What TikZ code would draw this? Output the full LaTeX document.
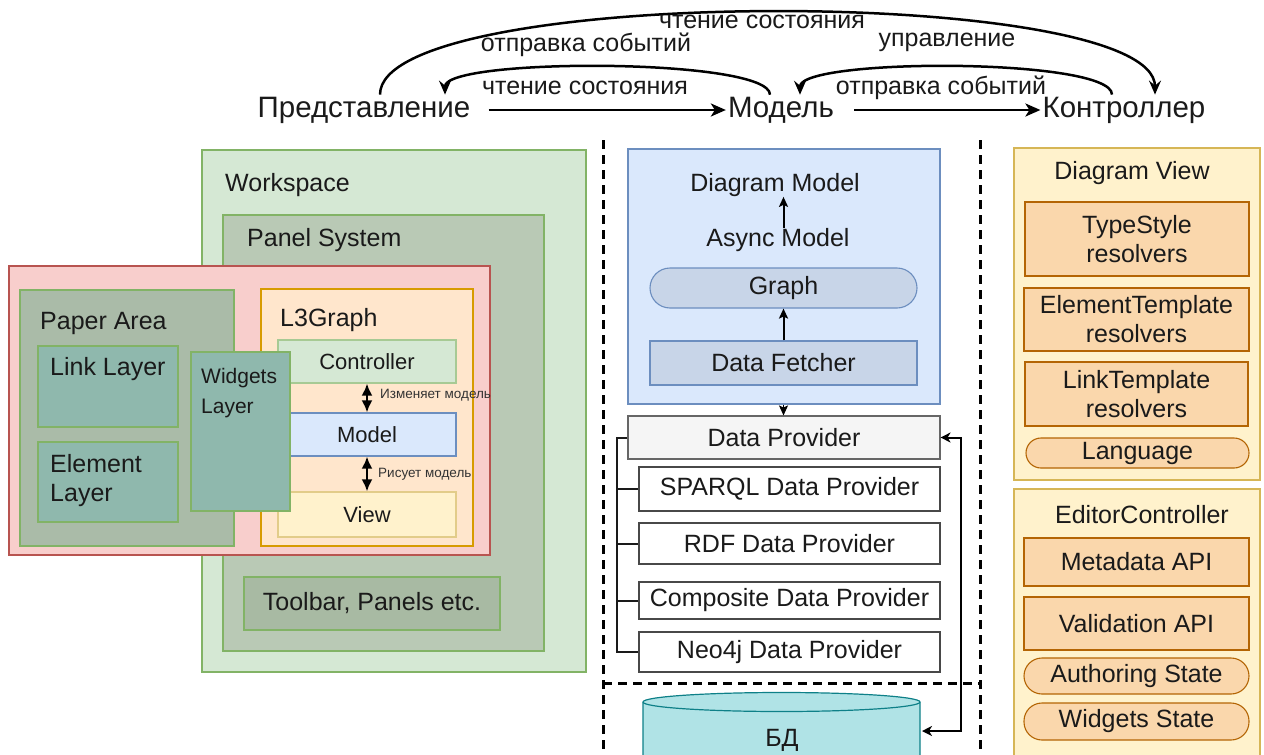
\documentclass[tikz,border=0pt]{standalone}
\usepackage{fontspec}
\setmainfont{Liberation Sans}
\usetikzlibrary{arrows.meta,calc}
\definecolor{txt}{HTML}{1A1A1A}
\definecolor{gF}{HTML}{D5E8D4}\definecolor{gD}{HTML}{82B366}
\definecolor{psF}{HTML}{B9C9B5}\definecolor{tbF}{HTML}{A8BAA3}
\definecolor{rF}{HTML}{F8CECC}\definecolor{rD}{HTML}{B85450}
\definecolor{paF}{HTML}{AABBA8}\definecolor{tlF}{HTML}{8FB8AD}
\definecolor{oF}{HTML}{FFE6CC}\definecolor{oD}{HTML}{D79B00}
\definecolor{bF}{HTML}{DAE8FC}\definecolor{bD}{HTML}{6C8EBF}
\definecolor{yF}{HTML}{FFF2CC}\definecolor{yD}{HTML}{D6B656}
\definecolor{gbF}{HTML}{C8D5E8}
\definecolor{dpF}{HTML}{F5F5F5}\definecolor{dpD}{HTML}{666666}
\definecolor{dbF}{HTML}{B0E3E6}\definecolor{dbD}{HTML}{0E8088}
\definecolor{peF}{HTML}{FAD7AC}\definecolor{peD}{HTML}{B46504}
\definecolor{lbl}{HTML}{333333}
\newcommand\fsz[2]{\fontsize{#1}{#2}\selectfont}
\newcommand\bx[7]{\node[#2, minimum width={#5-#3}, minimum height={#6-#4}] (#1) at ({(#3+#5)/2},{(#4+#6)/2}) {#7};}
\tikzset{
 every node/.style={inner sep=0pt, text=txt},
 box/.style={draw, line width=1.1pt, font=\fsz{25}{29}, align=center},
 lab/.style={anchor=west, font=\fsz{25}{29}, align=left},
 top/.style={font=\fsz{29.5}{32}, inner sep=2pt},
 toplab/.style={font=\fsz{25}{28}},
 bigarr/.style={line width=2.5pt, -{Stealth[length=15pt,width=13pt,inset=4pt]}},
 curarr/.style={line width=2.5pt, -{Stealth[length=14pt,width=12pt,inset=5pt]}},
 sarr/.style={line width=2pt, -{Stealth[length=10pt,width=9pt,inset=2pt]}},
 dbl/.style={line width=2.5pt, {Latex[length=12pt,width=11pt]}-{Latex[length=12pt,width=11pt]}},
 tree/.style={line width=2pt, draw=txt},
 dbarr/.style={line width=2pt, {Stealth[length=10pt,width=10pt,inset=3pt]}-{Stealth[length=10pt,width=10pt,inset=3pt]}},
 sep/.style={line width=3pt, dash pattern=on 9pt off 6pt},
 small/.style={anchor=west, font=\fsz{13.5}{15}, text=lbl},
}
\begin{document}
\begin{tikzpicture}[x=1pt,y=-1pt]
\useasboundingbox (0,0) rectangle (1264,755);
% ---------- top MVC row
\node[top] (pred) at (364,110) {Представление};
\node[top] (modl) at (781,110) {Модель};
\node[top] (kont) at (1124,110) {Контроллер};
\draw[bigarr] ($(pred.east)+(16,0)$) -- (modl.west);
\draw[bigarr] ($(modl.east)+(18,0)$) -- (kont.west);
\draw[curarr] ($(modl.north)+(-11,0)$) .. controls +(0,-37) and +(0,-37) .. ($(pred.north)+(81,0)$);
\draw[curarr] ($(kont.north)+(-12,0)$) .. controls +(0,-37) and +(0,-37) .. ($(modl.north)+(19,0)$);
\draw[curarr] ($(pred.north)+(16,0)$) .. controls +(0,-110) and +(0,-110) .. ($(kont.north)+(31,0)$);
\node[toplab] (l1) at (762,22) {чтение состояния};
\node[toplab] (l2) at (586,45) {отправка событий};
\node[toplab] (l3) at (947,42) {управление};
\node[toplab] (l4) at (585,88) {чтение состояния};
\node[toplab] (l5) at (941,88) {отправка событий};
% ---------- separators
\draw[sep] (603,140) -- (603,760);
\draw[sep] (980,140) -- (980,760);
\draw[sep] (603,683) -- (980,683);
% ---------- left part
\bx{ws}{box,fill=gF,draw=gD}{202}{150}{586}{672}{}
\node[lab] (wsl) at (225,185) {Workspace};
\bx{ps}{box,fill=psF,draw=gD}{223}{215}{544}{651}{}
\node[lab] (psl) at (247,240) {Panel System};
\bx{tb}{box,fill=tbF,draw=gD}{244}{577}{500}{630}{Toolbar, Panels etc.}
\bx{pink}{box,fill=rF,draw=rD}{9}{266}{490}{555}{}
\bx{pa}{box,fill=paF,draw=gD}{20}{290}{234}{546}{}
\node[lab] (pal) at (40,323) {Paper Area};
\bx{ll}{box,fill=tlF,draw=gD}{38}{346}{178}{427}{}
\node[lab] (lll) at (50,369) {Link Layer};
\bx{el}{box,fill=tlF,draw=gD}{38}{442}{178}{522}{}
\node[lab] (ell) at (50,481) {Element\\Layer};
\bx{l3}{box,fill=oF,draw=oD}{261}{289}{473}{546}{}
\node[lab] (l3l) at (280,320) {L3Graph};
\bx{ctrl}{box,fill=gF,draw=gD!70,font=\fsz{22}{26}}{278}{340}{456}{383}{Controller}
\bx{mdl}{box,fill=bF,draw=bD,font=\fsz{22}{26}}{278}{413}{456}{456}{Model}
\bx{view}{box,fill=yF,draw=yD!70,font=\fsz{22}{26}}{278}{492}{456}{537}{View}
\draw[dbl] (ctrl.south) -- (mdl.north);
\draw[dbl] (mdl.south) -- (view.north);
\node[small] (izm) at (380,395) {Изменяет модель};
\node[small] (ris) at (378,474) {Рисует модель};
\bx{wl}{box,fill=tlF,draw=gD}{191}{352}{290}{511}{}
\node[lab,font=\fsz{21}{30}] (wll) at (201,393) {Widgets\\Layer};
% ---------- middle
\bx{blue}{box,fill=bF,draw=bD}{628}{149}{940}{404}{}
\node[font=\fsz{25}{29}] (dm) at (775,185) {Diagram Model};
\node[font=\fsz{25}{29}] (async) at (778,240) {Async Model};
\bx{graph}{box,fill=gbF,draw=bD,rounded corners=20pt}{650}{268}{917}{308}{Graph}
\bx{df}{box,fill=gbF,draw=bD}{650}{341}{917}{385}{Data Fetcher}
\draw[sarr] (async.north -| graph) -- (dm.south -| graph);
\draw[sarr] (df.north) -- (graph.south);
\bx{dp}{box,fill=dpF,draw=dpD}{628}{416}{940}{459}{Data Provider}
\draw[sarr,line width=1.2pt] (blue.south -| graph) -- (dp.north -| graph);
\bx{sp}{box,fill=white,draw=txt!80}{639}{467}{940}{511}{SPARQL Data Provider}
\bx{rdf}{box,fill=white,draw=txt!80}{639}{523}{940}{564}{RDF Data Provider}
\bx{comp}{box,fill=white,draw=txt!80}{639}{582}{940}{619}{Composite Data Provider}
\bx{neo}{box,fill=white,draw=txt!80}{639}{632}{940}{672}{Neo4j Data Provider}
\coordinate (trunk) at ($(dp.west)+(-10,0)$);
\draw[tree] (dp.west) -- (trunk) |- (neo.west);
\draw[tree] (trunk) |- (sp.west);
\draw[tree] (trunk) |- (rdf.west);
\draw[tree] (trunk) |- (comp.west);
% database
\filldraw[fill=dbF,draw=dbD,line width=1.2pt] (643,702) -- (643,800) -- (920,800) -- (920,702)
  arc[start angle=0,end angle=180,x radius=138.5pt,y radius=9.5pt] -- cycle;
\draw[draw=dbD,line width=1.2pt] (643,702) arc[start angle=180,end angle=360,x radius=138.5pt,y radius=9.5pt];
\node[font=\fsz{25}{29}] (db) at (782,740) {БД};
\coordinate (dbr) at (922,731);
\draw[dbarr] (dp.east) -- ($(dp.east)+(20,0)$) |- (dbr);
% ---------- right
\bx{dv}{box,fill=yF,draw=yD}{1014}{148}{1260}{480}{}
\node[font=\fsz{25}{29}] (dvl) at (1132,173) {Diagram View};
\bx{ts}{box,fill=peF,draw=peD}{1025}{202}{1249}{276}{TypeStyle\\resolvers}
\bx{et}{box,fill=peF,draw=peD}{1024}{288}{1249}{351}{ElementTemplate\\resolvers}
\bx{lt}{box,fill=peF,draw=peD}{1025}{362}{1248}{426}{LinkTemplate\\resolvers}
\bx{lang}{box,fill=peF,draw=peD,rounded corners=15pt}{1026}{438}{1249}{468}{Language}
\bx{ec}{box,fill=yF,draw=yD}{1014}{489}{1260}{780}{}
\node[font=\fsz{25}{29}] (ecl) at (1142,515) {EditorController};
\bx{meta}{box,fill=peF,draw=peD}{1024}{538}{1249}{586}{Metadata API}
\bx{val}{box,fill=peF,draw=peD}{1024}{597}{1249}{650}{Validation API}
\bx{auth}{box,fill=peF,draw=peD,rounded corners=18pt}{1024}{658}{1249}{694}{Authoring State}
\bx{wst}{box,fill=peF,draw=peD,rounded corners=18pt}{1024}{703}{1249}{740}{Widgets State}
\end{tikzpicture}
\end{document}
